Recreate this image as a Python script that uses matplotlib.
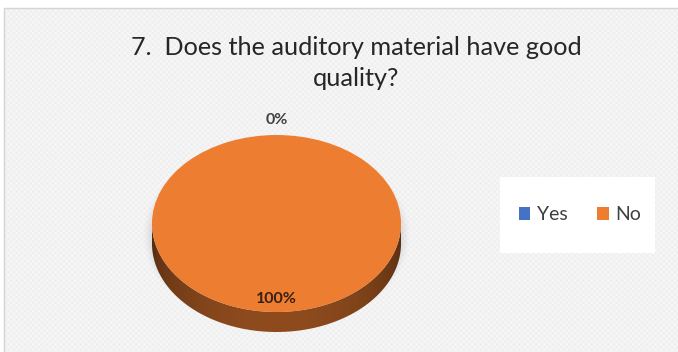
import numpy as np
import matplotlib.pyplot as plt
from matplotlib.patches import Rectangle, Polygon

plt.rcParams['font.family'] = ['Lato', 'DejaVu Sans']
plt.rcParams['hatch.linewidth'] = 0.6

# data
title = '7.  Does the auditory material have good\nquality?'
categories = ['Yes', 'No']
shares = [0, 100]
pct_labels = ['0%', '100%']
colors = ['#4472C4', '#ED7D31']

W, H = 678, 352
fig = plt.figure(figsize=(W / 100, H / 100), dpi=100)
fig.patch.set_facecolor('white')

# chart area (light textured gray with thin border)
fig.patches.append(Rectangle((4 / W, -0.01), 1, 1.01 - 8 / H, transform=fig.transFigure,
                             facecolor='#efefef', edgecolor='#f8f8f8', hatch='xxxxxx',
                             lw=0, zorder=-2))
fig.patches.append(Rectangle((4 / W, -0.01), 1, 1.01 - 8 / H, transform=fig.transFigure,
                             facecolor='none', edgecolor='#d4d4d4', lw=1, zorder=-1))

fig.text(356 / W, 1 - 63 / H, title, ha='center', va='center', fontsize=18.2,
         color='#262626', linespacing=1.42)

#### pie axes: 1 data unit = rx px horizontally, ry px vertically
cx, cy = 276.5, H - 223.5
rx, ry = 124.5, 88.5
depth = 0.226
xl = (-1.25, 1.25)
yl = (-1.5, 1.3)
ax = fig.add_axes([(cx + xl[0] * rx) / W, (cy + yl[0] * ry) / H,
                   (xl[1] - xl[0]) * rx / W, (yl[1] - yl[0]) * ry / H])

wedges, _ = ax.pie(shares, colors=colors, startangle=90, counterclock=False,
                   radius=1, wedgeprops=dict(linewidth=0, zorder=5))
ax.set_aspect('auto')
ax.set_xlim(xl)
ax.set_ylim(yl)
ax.axis('off')

# soft shadow under the pie
for k, a in enumerate(np.linspace(0.05, 0.012, 6)):
    t = np.linspace(0, 2 * np.pi, 200)
    g = 1.0 + 0.012 * (k + 1)
    ax.fill(g * np.cos(t), g * np.sin(t) - depth / 2 - 0.02, color='#808080', alpha=a,
            lw=0, zorder=1)

# 3d side for each slice, only the front (lower) half is visible
def side_runs(t1, t2):
    runs = []
    for k in range(-2, 2):
        lo, hi = max(t1, 180 + 360 * k), min(t2, 360 + 360 * k)
        if hi > lo:
            runs.append((lo, hi))
    return runs

for w, c in zip(wedges, colors):
    rgb = np.array(plt.matplotlib.colors.to_rgb(c))
    for lo, hi in side_runs(w.theta1, w.theta2):
        t = np.radians(np.linspace(lo, hi, 200))
        xs, ys = np.cos(t), np.sin(t)
        verts = np.concatenate([np.c_[xs, ys], np.c_[xs[::-1], ys[::-1] - depth]])
        poly = Polygon(verts, closed=True, facecolor='none', lw=0, zorder=3)
        ax.add_patch(poly)
        gx = np.linspace(-1, 1, 300)
        shade = 0.34 + 0.26 * np.sqrt(np.clip(1 - gx ** 2, 0, 1))
        img = (shade[None, :, None] * rgb[None, None, :])
        im = ax.imshow(img, extent=(-1, 1, -1 - depth, 0), aspect='auto',
                       interpolation='bilinear', zorder=3)
        im.set_clip_path(poly)
ax.set_xlim(xl)
ax.set_ylim(yl)

# percentage labels
for w, lab, s in zip(wedges, pct_labels, shares):
    mid = np.radians((w.theta1 + w.theta2) / 2)
    dist = 1.17 if s < 5 else 0.853
    col = '#404040' if s < 5 else '#3a2010'
    ax.text(dist * np.cos(mid), dist * np.sin(mid), lab, ha='center', va='center',
            fontsize=11.5, fontweight='bold', color=col, zorder=10)

# legend
fig.patches.append(Rectangle((500 / W, (H - 253) / H), 155 / W, 76 / H,
                             transform=fig.transFigure, facecolor='white',
                             edgecolor='none', zorder=2))
leg = fig.legend(wedges, categories, loc='center', bbox_to_anchor=(580 / W, 1 - 215 / H),
                 ncol=2, frameon=False, fontsize=14, handlelength=0.6, handleheight=0.6,
                 columnspacing=1.5, handletextpad=0.35, labelcolor='#404040')
leg.set_zorder(5)

fig.savefig('out.png', dpi=100)
